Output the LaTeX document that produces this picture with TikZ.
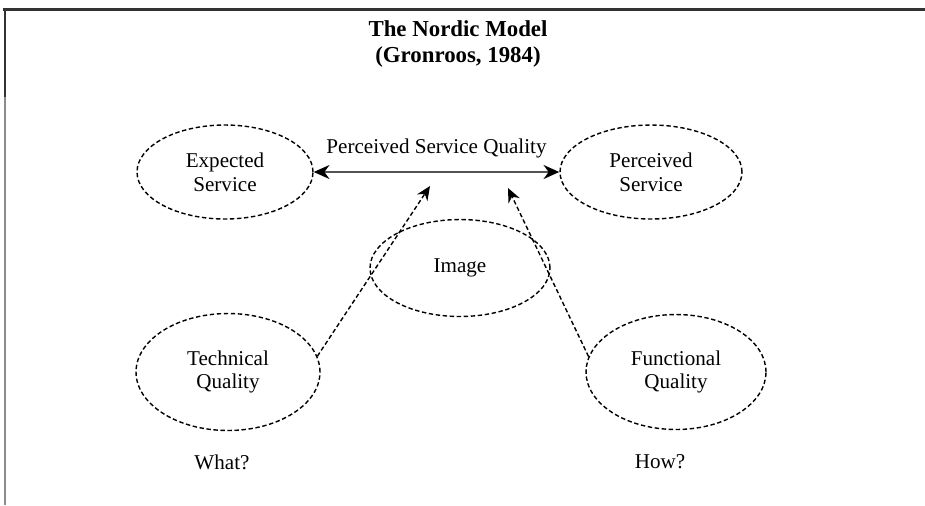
\documentclass[tikz,border=0pt]{standalone}
\usepackage{fontspec}
\setmainfont{Liberation Serif}
\usepackage{xcolor}
\definecolor{darkgray}{HTML}{333333}
\definecolor{gray}{HTML}{8C8C8C}
\usetikzlibrary{shapes.geometric,arrows.meta,positioning}

\begin{document}
\begin{tikzpicture}[x=0.02cm, y=-0.02cm,
	oval/.style={
		ellipse, draw = black, thick, dash pattern = on 2.5pt off 1.5pt,
		align = center, inner sep = 0pt, font = \fontsize{12}{13.5}\selectfont},
	dasharrow/.style={
		thick, dash pattern = on 2.5pt off 1.5pt, -{Stealth[length=8pt,width=7pt]}},
	label/.style={text = black, font = \fontsize{12}{13.5}\selectfont, align = center}]
	\useasboundingbox (0,0) rectangle (925,505);
	% frame
	\draw[darkgray, line width = 1.7pt] (3,9) -- (925,9);
	\draw[darkgray, line width = 1.7pt] (5,9) -- (5,97);
	\draw[gray, line width = 1.1pt] (5,97) -- (5,505);
	% title
	\node (T) [label, font = \bfseries\fontsize{13}{14.5}\selectfont] at (458,44) {The Nordic Model\\(Gronroos, 1984)};
	% ovals
	\node (ES) [oval, minimum width = 3.52cm, minimum height = 1.88cm] at (225,172) {Expected\\Service};
	\node (PS) [oval, minimum width = 3.64cm, minimum height = 1.88cm] at (651,172) {Perceived\\Service};
	\node (IM) [oval, minimum width = 3.6cm, minimum height = 1.94cm] at (460,268) {Image};
	\node (TQ) [oval, minimum width = 3.68cm, minimum height = 2.34cm] at (228,372) {Technical\\Quality};
	\node (FQ) [oval, minimum width = 3.6cm, minimum height = 2.3cm] at (676,372) {Functional\\Quality};
	\node (W) [label] at (222,462) {What?};
	\node (H) [label] at (660,462) {How?};
	% arrows
	\draw[gray!60!black, line width = 1pt, {Stealth[length=9pt,width=8pt,black]}-{Stealth[length=9pt,width=8pt,black]}]
		(ES) -- node (PSQ) [label, above = 4pt] {Perceived Service Quality} (PS);
	\coordinate (L) at (430,186);
	\coordinate (R) at (508,188);
	\draw[dasharrow] (TQ.10) -- (L);
	\draw[dasharrow] (FQ.170) -- (R);
\end{tikzpicture}
\end{document}
